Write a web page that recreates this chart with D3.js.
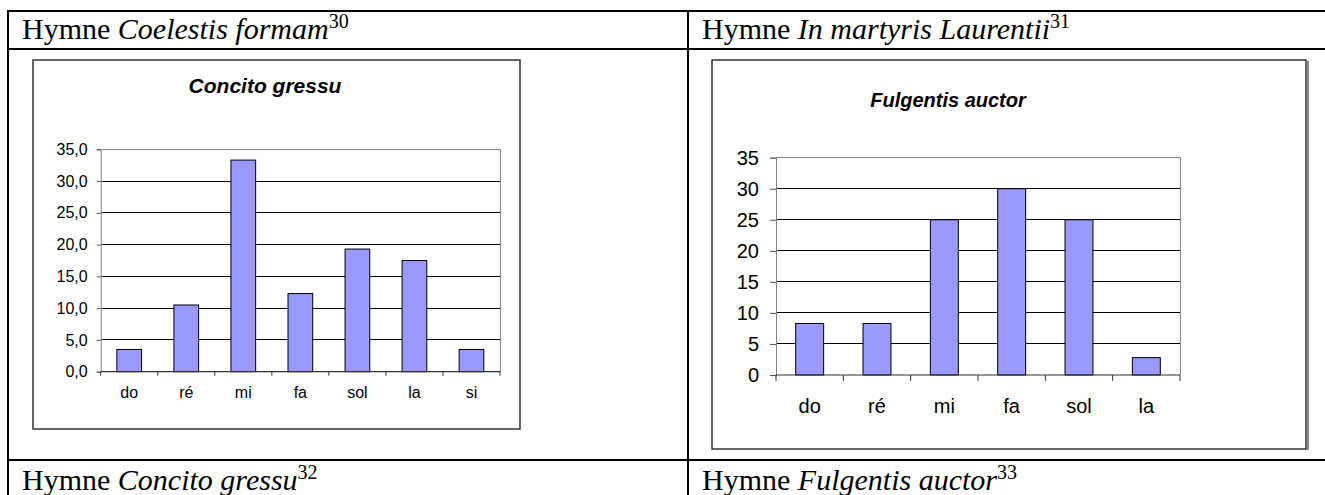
<!DOCTYPE html>
<html><head><meta charset="utf-8">
<script src="https://cdn.jsdelivr.net/npm/d3@7"></script>
<style>body{margin:0;background:#fff;} svg{display:block;}</style>
</head><body>
<script>
// ---- data ----
const headerTop = [
  {plain: "Hymne ", ital: "Coelestis formam", sup: "30"},
  {plain: "Hymne ", ital: "In martyris Laurentii", sup: "31"}
];
const headerBottom = [
  {plain: "Hymne ", ital: "Concito gressu", sup: "32"},
  {plain: "Hymne ", ital: "Fulgentis auctor", sup: "33"}
];
const title1 = "Concito gressu";
const cats1 = ["do", "ré", "mi", "fa", "sol", "la", "si"];
const vals1 = [3.5, 10.5, 33.3, 12.3, 19.3, 17.5, 3.5];
const ticks1 = [0, 5, 10, 15, 20, 25, 30, 35];

const title2 = "Fulgentis auctor";
const cats2 = ["do", "ré", "mi", "fa", "sol", "la"];
const vals2 = [8.3, 8.3, 25, 30, 25, 2.8];
const ticks2 = [0, 5, 10, 15, 20, 25, 30, 35];

// ---- drawing ----
const W = 1325, H = 495;
const svg = d3.select("body").append("svg").attr("width", W).attr("height", H);
svg.append("rect").attr("width", W).attr("height", H).attr("fill", "#fff");

const SERIF = "'Liberation Serif','Times New Roman',serif";
const SANS = "'Liberation Sans',Arial,sans-serif";

// table lines
const tbl = svg.append("g").attr("stroke", "#000").attr("stroke-width", 2);
tbl.append("line").attr("x1", 8).attr("x2", W + 5).attr("y1", 11).attr("y2", 11);
tbl.append("line").attr("x1", 8).attr("x2", W + 5).attr("y1", 49).attr("y2", 49);
tbl.append("line").attr("x1", 8).attr("x2", W + 5).attr("y1", 460).attr("y2", 460);
tbl.append("line").attr("x1", 8).attr("x2", 8).attr("y1", 10).attr("y2", H + 5);
tbl.append("line").attr("x1", 688).attr("x2", 688).attr("y1", 10).attr("y2", H + 5);

function header(d, x, y) {
  const t = svg.append("text").attr("x", x).attr("y", y)
    .attr("font-family", SERIF).attr("font-size", 30).attr("fill", "#000");
  t.append("tspan").text(d.plain);
  t.append("tspan").attr("font-style", "italic").text(d.ital);
  t.append("tspan").attr("font-size", 20).attr("dy", -11).text(d.sup);
}
header(headerTop[0], 22, 39);
header(headerTop[1], 702, 39);
header(headerBottom[0], 22, 490);
header(headerBottom[1], 702, 490);

function chart(cfg) {
  const g = svg.append("g");
  // chart area box
  if (cfg.shadow) {
    g.append("line").attr("x1", cfg.box[2] + 2).attr("x2", cfg.box[2] + 2)
      .attr("y1", cfg.box[1] + 1).attr("y2", cfg.box[3] + 1)
      .attr("stroke", "#888").attr("stroke-width", 2);
  }
  g.append("rect").attr("x", cfg.box[0]).attr("y", cfg.box[1])
    .attr("width", cfg.box[2] - cfg.box[0]).attr("height", cfg.box[3] - cfg.box[1])
    .attr("fill", "#fff").attr("stroke", cfg.boxColor).attr("stroke-width", cfg.boxWidth);

  const [L, T, R, B] = cfg.plot;
  const x = d3.scaleBand().domain(cfg.cats).range([L, R])
    .paddingInner(cfg.pad).paddingOuter(cfg.pad / 2);
  const y = d3.scaleLinear().domain([0, 35]).range([B, T]);

  // gridlines
  g.append("g").selectAll("line").data(cfg.ticks.filter(v => v > 0 && v < 35)).join("line")
    .attr("x1", L).attr("x2", R).attr("y1", d => y(d)).attr("y2", d => y(d))
    .attr("stroke", "#000").attr("stroke-width", 1).attr("shape-rendering", "crispEdges");
  // plot border (top/right) grey
  g.append("path").attr("d", `M${L},${y(35)}H${R}V${y(0)}`)
    .attr("fill", "none").attr("stroke", "#888").attr("stroke-width", 1).attr("shape-rendering", "crispEdges");

  // bars
  g.append("g").selectAll("rect").data(cfg.cats).join("rect")
    .attr("x", d => x(d)).attr("width", x.bandwidth())
    .attr("y", (d, i) => y(cfg.vals[i])).attr("height", (d, i) => y(0) - y(cfg.vals[i]))
    .attr("fill", "#9999FF").attr("stroke", "#000").attr("stroke-width", 1);

  // y axis
  const ya = d3.axisLeft(y).tickValues(cfg.ticks).tickSize(cfg.ytick).tickPadding(cfg.ypad)
    .tickFormat(cfg.fmt);
  const yg = g.append("g").attr("transform", `translate(${L},0)`).call(ya);
  yg.select(".domain").attr("stroke", "#808080");
  yg.selectAll(".tick line").attr("stroke", "#555");
  yg.selectAll("text").attr("font-family", SANS).attr("font-size", cfg.fs).attr("fill", "#000");

  // x axis line + boundary ticks
  const bounds = cfg.cats.map(c => x(c) - (x.step() - x.bandwidth()) / 2).concat([R]);
  g.append("line").attr("x1", L).attr("x2", R).attr("y1", y(0)).attr("y2", y(0))
    .attr("stroke", "#333").attr("stroke-width", 1.2);
  g.append("g").selectAll("line").data(bounds).join("line")
    .attr("x1", d => d).attr("x2", d => d).attr("y1", y(0)).attr("y2", y(0) + cfg.xtick)
    .attr("stroke", "#333").attr("stroke-width", 1);
  g.append("g").selectAll("text").data(cfg.cats).join("text")
    .attr("x", d => x(d) + x.bandwidth() / 2).attr("y", cfg.xlabY)
    .attr("text-anchor", "middle").attr("font-family", SANS).attr("font-size", cfg.fs)
    .text(d => d);

  // title
  g.append("text").attr("x", cfg.titleX).attr("y", cfg.titleY).attr("text-anchor", "middle")
    .attr("font-family", SANS).attr("font-weight", "bold").attr("font-style", "italic")
    .attr("font-size", cfg.tfs).text(cfg.title);
}

const fmt1 = v => d3.format(".1f")(v).replace(".", ",");
chart({
  box: [33, 60, 520, 429], boxColor: "#333", boxWidth: 1.5, shadow: false,
  plot: [100.7, 149.3, 500, 371.7], cats: cats1, vals: vals1, ticks: ticks1,
  pad: 0.567, ytick: 4, ypad: 9, fmt: fmt1, fs: 16, xtick: 4, xlabY: 398,
  title: title1, titleX: 265, titleY: 93, tfs: 21
});
chart({
  box: [712, 60, 1306, 449], boxColor: "#000", boxWidth: 1.2, shadow: true,
  plot: [776, 157.7, 1180, 375], cats: cats2, vals: vals2, ticks: ticks2,
  pad: 0.585, ytick: 6, ypad: 11, fmt: d3.format("d"), fs: 20, xtick: 6, xlabY: 413,
  title: title2, titleX: 948, titleY: 107, tfs: 20
});
</script>
</body></html>
